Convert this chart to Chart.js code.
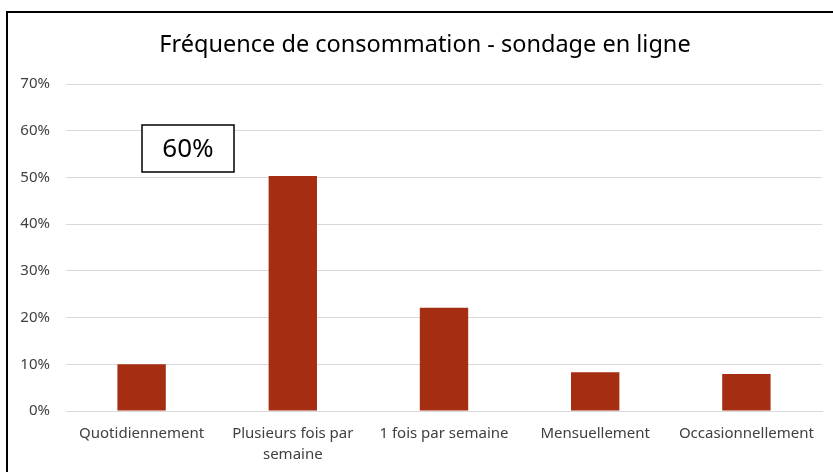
<!DOCTYPE html>
<html>
<head>
<meta charset="utf-8">
<script src="https://cdn.jsdelivr.net/npm/chart.js@4"></script>
<style>
  body { margin: 0; background: #fff; }
  #frame {
    position: absolute; left: 6px; top: 11px;
    width: 840px; height: 470px;
    border-top: 2px solid #000; border-left: 2px solid #000;
  }
  #wrap { position: absolute; left: 8px; top: 13px; width: 825px; height: 459px; }
</style>
</head>
<body>
<div id="frame"></div>
<div id="wrap"><canvas id="chart"></canvas></div>
<script>
const categories = ['Quotidiennement', ['Plusieurs fois par', 'semaine'], '1 fois par semaine', 'Mensuellement', 'Occasionnellement'];
const values = [10.0, 50.3, 22.1, 8.3, 7.9];
const yTicks = [0, 10, 20, 30, 40, 50, 60, 70];
const titleText = 'Fréquence de consommation - sondage en ligne';
const boxText = '60%';

const font = "'Noto Sans', 'Open Sans', sans-serif";

// titre centré sur le cadre entier + encadré "60%"
const overlay = {
  id: 'overlay',
  afterDraw(chart) {
    const ctx = chart.ctx;
    const a = chart.chartArea;
    ctx.save();
    ctx.fillStyle = '#000';
    ctx.font = "23.5px " + font;
    ctx.textAlign = 'center';
    ctx.textBaseline = 'middle';
    ctx.fillText(titleText, 417, 32);

    const x = a.left + 76, y = a.top + 41, w = 92, h = 47;
    ctx.fillStyle = '#fff';
    ctx.fillRect(x, y, w, h);
    ctx.strokeStyle = '#000';
    ctx.lineWidth = 1.5;
    ctx.strokeRect(x, y, w, h);
    ctx.fillStyle = '#000';
    ctx.font = "26px " + font;
    ctx.fillText(boxText, x + w / 2, y + h / 2 + 1);
    ctx.restore();
  }
};

new Chart(document.getElementById('chart'), {
  type: 'bar',
  data: {
    labels: categories,
    datasets: [{
      data: values,
      backgroundColor: '#a52e12',
      barPercentage: 1,
      categoryPercentage: 0.32
    }]
  },
  options: {
    responsive: true,
    maintainAspectRatio: false,
    animation: false,
    layout: { padding: { left: 0, right: 11, top: 71, bottom: 0 } },
    plugins: {
      legend: { display: false },
      tooltip: { enabled: false },
      title: { display: false }
    },
    scales: {
      x: {
        grid: { display: false, drawTicks: false },
        border: { color: '#d9d9d9' },
        ticks: {
          color: '#404040',
          font: { family: font, size: 15, lineHeight: 1.4 },
          padding: 12,
          maxRotation: 0,
          autoSkip: false
        },
        afterFit(scale) { scale.height = 61; }
      },
      y: {
        min: 0,
        max: 70,
        afterBuildTicks(scale) { scale.ticks = yTicks.map(v => ({ value: v })); },
        grid: { color: '#d9d9d9', drawTicks: false },
        border: { display: false },
        ticks: {
          color: '#404040',
          font: { family: font, size: 15 },
          padding: 16,
          callback: v => v + '%'
        },
        afterFit(scale) { scale.width = 58; }
      }
    }
  },
  plugins: [overlay]
});
</script>
</body>
</html>
